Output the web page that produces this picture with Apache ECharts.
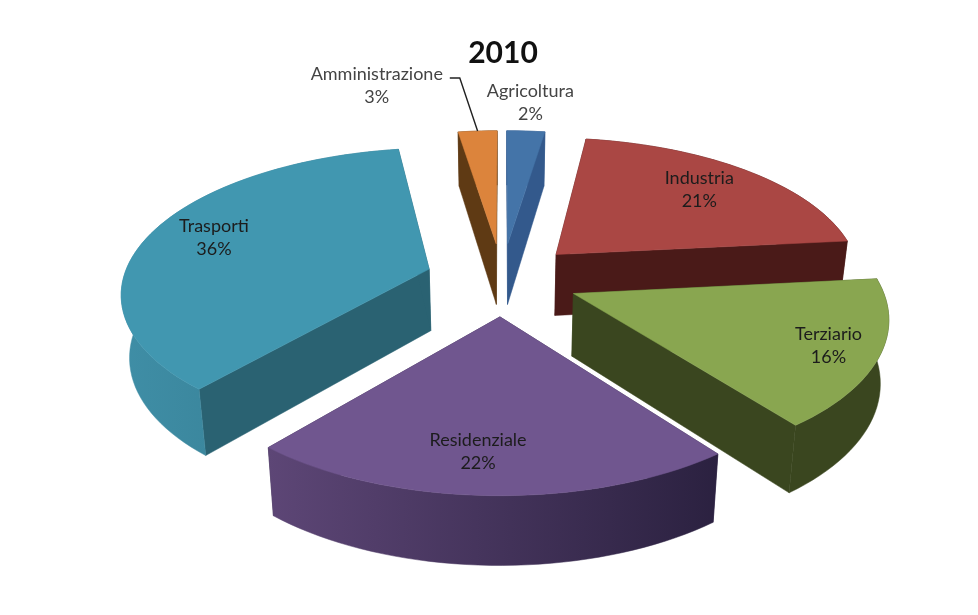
<!DOCTYPE html>
<html>
<head>
<meta charset="utf-8">
<style>html,body{margin:0;padding:0;background:#fff}#c{width:978px;height:615px}</style>
<script src="https://cdn.jsdelivr.net/npm/echarts@6/dist/echarts.min.js"></script>
</head>
<body>
<div id="c"></div>
<script>
var titleText = '2010';
var categories = ['Agricoltura', 'Industria', 'Terziario', 'Residenziale', 'Trasporti', 'Amministrazione'];
var shares = [2, 21, 16, 22, 36, 3];

// drawing style, one entry per category
var topColors  = ['#4474a8', '#aa4744', '#89a650', '#70568f', '#4197b0', '#dc843c'];
var sideColors = ['#33598c', '#4a1a18', '#3a461f', '#3a2c50', '#2a6272', '#5f3a14'];
var arcFrom    = ['#33598c', '#4a1a18', '#3a461f', '#5d4676', '#3f8ea6', '#5f3a14'];
var arcTo      = ['#33598c', '#4a1a18', '#3a461f', '#2b2140', '#33788c', '#5f3a14'];
var labelRadius = [1.335, 0.74, 0.84, 0.78, 0.778, 1.659];
var labelTurn   = [0, 0, 0, 3, 1, -14.6];
var paintOrder  = [0, 5, 1, 4, 2, 3];
// the reference draws its two thin wedges with these angular adjustments (degrees)
var startTweak = [-1.5, 0, 0, 0, 0, 0.3];
var endTweak   = [0.1, 0, 0, 0, 0, -1.5];

// projection of the tilted pie
var cx = 502, cy = 279, rx = 306, ry = 146, persp = 0.15, depthPersp = 0.1, depth = 62, floorScale = 0.978;
var explode = 0.25, rotate = 1.5;

var total = shares.reduce(function (a, b) { return a + b; }, 0);
var starts = [], acc = 0;
shares.forEach(function (s) { starts.push(acc); acc += s; });

function rad(deg) { return deg * Math.PI / 180; }
function ground(angle, r, mid) {
  return [Math.sin(rad(angle)) * r + Math.sin(rad(mid)) * explode,
          -Math.cos(rad(angle)) * r - Math.cos(rad(mid)) * explode];
}
function roof(g) {
  var w = 1 + persp * g[1];
  return [cx + g[0] * rx * w, cy + g[1] * ry * w];
}
function floor(g) {
  var p = roof(g);
  return [cx + (p[0] - cx) * floorScale, p[1] + depth * (1 + depthPersp * g[1])];
}

function renderSlice(params, api) {
  var i = paintOrder[params.dataIndex];
  var a0 = starts[i] / total * 360 + rotate + startTweak[i];
  var a1 = (starts[i] + shares[i]) / total * 360 + rotate + endTweak[i];
  var mid = (a0 + a1) / 2;
  var arc = [], steps = Math.max(4, Math.round((a1 - a0) / 2));
  for (var s = 0; s <= steps; s++) arc.push(ground(a0 + (a1 - a0) * s / steps, 1, mid));
  var apex = ground(mid, 0, mid);
  var topPts = [roof(apex)].concat(arc.map(roof));
  var arcTop = arc.map(roof), arcBottom = arc.map(floor).reverse();
  var first = arc[0], last = arc[arc.length - 1];

  function poly(points, fill) {
    return { type: 'polygon', shape: { points: points },
             style: { fill: fill, stroke: fill, lineWidth: 0.5 } };
  }
  var kids = [
    poly([roof(apex), roof(first), floor(first), floor(apex)], sideColors[i]),
    poly([roof(apex), roof(last), floor(last), floor(apex)], sideColors[i]),
    poly(arcTop.concat(arcBottom), {
      type: 'linear', x: 0, y: 0, x2: 1, y2: 0,
      colorStops: [{ offset: 0, color: arcFrom[i] }, { offset: 1, color: arcTo[i] }]
    }),
    poly(topPts, topColors[i])
  ];

  var lp = roof(ground(mid + labelTurn[i], labelRadius[i], mid));
  var outside = labelRadius[i] > 1;
  kids.push({
    type: 'text',
    style: {
      text: categories[i] + '\n' + shares[i] + '%',
      x: lp[0], y: lp[1], align: 'center', verticalAlign: 'middle',
      font: '18px Lato, "Open Sans", sans-serif', lineHeight: 23,
      fill: outside ? '#444444' : '#1c1c1c'
    }
  });
  if (categories[i] === 'Amministrazione') {
    var tip = roof(ground(mid, 1, mid));
    kids.push({
      type: 'polyline',
      shape: { points: [[lp[0] + 73, lp[1] - 8], [lp[0] + 83, lp[1] - 8], tip] },
      style: { stroke: '#222222', lineWidth: 1.4, fill: null }
    });
  }
  return { type: 'group', children: kids };
}

var chart = echarts.init(document.getElementById('c'), null, { renderer: 'canvas' });
chart.setOption({
  animation: false,
  backgroundColor: '#ffffff',
  title: {
    text: titleText, left: 498, top: 33, textAlign: 'center',
    textStyle: { fontFamily: 'Lato, "Open Sans", sans-serif', fontSize: 30, fontWeight: 'bold', color: '#111111' }
  },
  series: [{
    type: 'custom',
    coordinateSystem: 'none',
    renderItem: renderSlice,
    data: paintOrder.map(function (i) { return { name: categories[i], value: shares[i] }; })
  }]
});
</script>
</body>
</html>
